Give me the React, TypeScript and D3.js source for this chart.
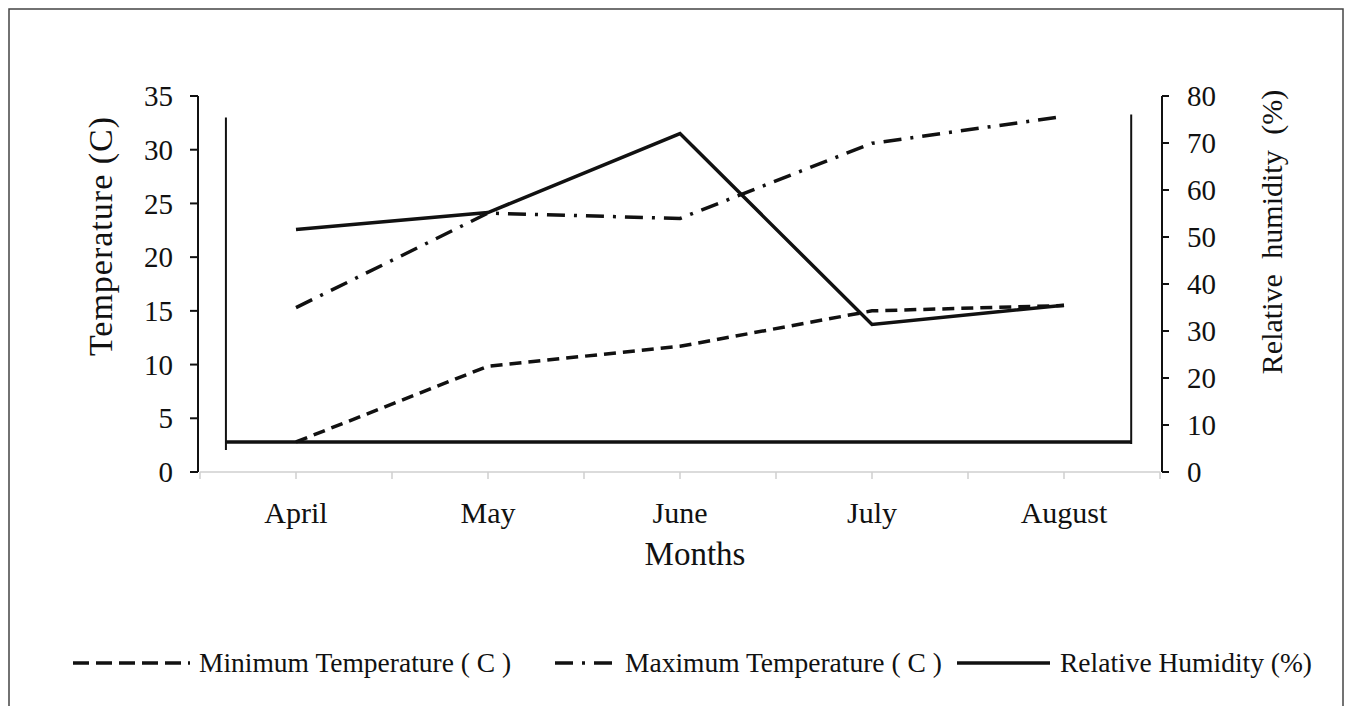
import React from "react";
import * as d3 from "d3";

const months = ["April", "May", "June", "July", "August"];
const minTemp = [2.8, 9.85, 11.7, 15.0, 15.5];
const maxTemp = [15.3, 24.1, 23.6, 30.6, 33.1];
const humidity = [51.6, 55.2, 72.0, 31.4, 35.5];
const tempTicks = [0, 5, 10, 15, 20, 25, 30, 35];
const rhTicks = [0, 10, 20, 30, 40, 50, 60, 70, 80];
const legendLabels = ["Minimum Temperature ( C )", "Maximum Temperature ( C )", "Relative Humidity (%)"];
// decorative inner frame seen in the original figure (index units / temperature units)
const frameX = [-0.365, 4.35];
const frameTemp = [2.05, 33.0, 2.8];

const W = 1352;
const H = 706;
const FONT = "'Liberation Serif', 'Times New Roman', serif";

export default function App() {
  const x = d3.scaleLinear().domain([-0.5, 4.5]).range([200, 1160]);
  const yT = d3.scaleLinear().domain([0, 35]).range([472, 96]);
  const yR = d3.scaleLinear().domain([0, 80]).range([472, 96]);

  const lineT = d3.line<number>().x((_, i) => x(i)).y((d) => yT(d));
  const lineR = d3.line<number>().x((_, i) => x(i)).y((d) => yR(d));

  const xTicks = d3.range(-0.5, 4.51, 0.5);

  const minDash = "12,7";
  const maxDash = "18,9,3,9";

  return (
    <svg
      width={W}
      height={H}
      style={{ position: "absolute", left: 0, top: 0, background: "#fff" }}
      fontFamily={FONT}
    >
      <rect x={9} y={9} width={1334} height={720} fill="#fff" stroke="#444" strokeWidth={1.5} />

      {/* x axis */}
      <line x1={x(-0.5)} x2={x(4.5)} y1={yT(0)} y2={yT(0)} stroke="#cfcfcf" strokeWidth={1.5} />
      {xTicks.map((t) => (
        <line key={t} x1={x(t)} x2={x(t)} y1={yT(0)} y2={yT(0) + 7} stroke="#cfcfcf" strokeWidth={1.5} />
      ))}
      {months.map((m, i) => (
        <text key={m} x={x(i)} y={523} textAnchor="middle" fontSize={30} fill="#111">
          {m}
        </text>
      ))}
      <text x={695} y={565} textAnchor="middle" fontSize={33} fill="#111">
        Months
      </text>

      {/* left axis */}
      <line x1={198} x2={198} y1={yT(35)} y2={yT(0)} stroke="#111" strokeWidth={2} />
      {tempTicks.map((t) => (
        <g key={t}>
          <line x1={190} x2={198} y1={yT(t)} y2={yT(t)} stroke="#111" strokeWidth={2} />
          <text x={173} y={yT(t)} dy="0.35em" textAnchor="end" fontSize={29} fill="#111">
            {t}
          </text>
        </g>
      ))}
      <text
        transform={`translate(112,236) rotate(-90)`}
        textAnchor="middle"
        fontSize={34}
        fill="#111"
        style={{ letterSpacing: "1px" }}
      >
        Temperature (C)
      </text>

      {/* right axis */}
      <line x1={1162} x2={1162} y1={yR(80)} y2={yR(0)} stroke="#111" strokeWidth={2} />
      {rhTicks.map((t) => (
        <g key={t}>
          <line x1={1162} x2={1169} y1={yR(t)} y2={yR(t)} stroke="#111" strokeWidth={2} />
          <text x={1187} y={yR(t)} dy="0.35em" textAnchor="start" fontSize={29} fill="#111">
            {t}
          </text>
        </g>
      ))}
      <text
        transform={`translate(1282,232) rotate(-90)`}
        textAnchor="middle"
        fontSize={30}
        fill="#111"
        style={{ wordSpacing: "8px" }}
      >
        Relative humidity (%)
      </text>

      {/* decorative frame */}
      <line x1={x(frameX[0])} x2={x(frameX[0])} y1={yT(frameTemp[0])} y2={yT(frameTemp[1])} stroke="#111" strokeWidth={2} />
      <line x1={x(frameX[1])} x2={x(frameX[1])} y1={yT(frameTemp[2]) + 2} y2={yT(frameTemp[1]) - 3} stroke="#111" strokeWidth={2} />
      <line x1={x(frameX[0])} x2={x(frameX[1])} y1={yT(frameTemp[2])} y2={yT(frameTemp[2])} stroke="#111" strokeWidth={3.5} />

      {/* data lines */}
      <path d={lineT(minTemp) || ""} fill="none" stroke="#111" strokeWidth={3.5} strokeDasharray={minDash} />
      <path d={lineT(maxTemp) || ""} fill="none" stroke="#111" strokeWidth={3.5} strokeDasharray={maxDash} />
      <path d={lineR(humidity) || ""} fill="none" stroke="#111" strokeWidth={3.5} strokeLinejoin="miter" />

      {/* legend */}
      <line x1={73} x2={190} y1={663} y2={663} stroke="#111" strokeWidth={3.5} strokeDasharray="16,7" />
      <text x={199} y={672} fontSize={27.5} fill="#111">
        {legendLabels[0]}
      </text>
      <line x1={555} x2={615} y1={663} y2={663} stroke="#111" strokeWidth={3.5} strokeDasharray={maxDash} />
      <text x={625} y={672} fontSize={27.5} fill="#111">
        {legendLabels[1]}
      </text>
      <line x1={957} x2={1050} y1={663} y2={663} stroke="#111" strokeWidth={3.5} />
      <text x={1060} y={672} fontSize={27.5} fill="#111">
        {legendLabels[2]}
      </text>
    </svg>
  );
}
